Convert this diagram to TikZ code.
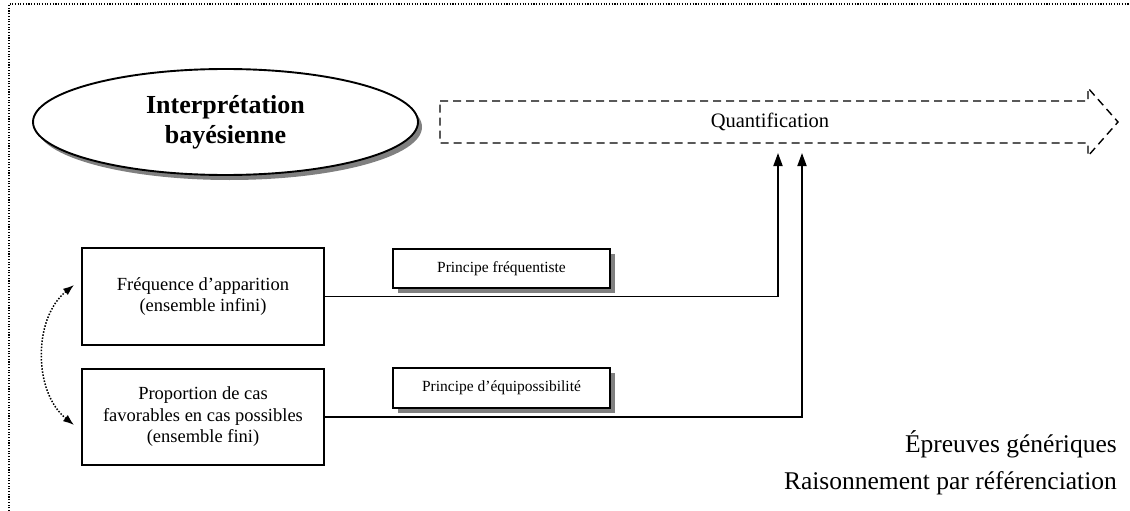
\documentclass[tikz,border=0pt]{standalone}
\usepackage{fontspec}
\setmainfont{Liberation Serif}
\usetikzlibrary{shapes.geometric,shadows,arrows.meta}
\begin{document}
\begin{tikzpicture}[x=1pt,y=-1pt,
  shadowed/.style={drop shadow={shadow xshift=5pt,shadow yshift=-5pt,fill=black!50,opacity=1}},
  mainbox/.style={draw,line width=1.8pt,fill=white,minimum width=242pt,align=center,
    font=\fontsize{18.5}{21.5}\selectfont,inner sep=0pt},
  princbox/.style={draw,line width=1.7pt,fill=white,minimum width=217pt,minimum height=39pt,
    font=\fontsize{15.5}{18}\selectfont,inner sep=0pt,shadowed},
  link/.style={line width=1.8pt,-{Triangle[length=13pt,width=9pt]}},
  bigtext/.style={font=\fontsize{25.5}{30}\selectfont,anchor=base east,inner sep=0pt}]
\useasboundingbox (0,0) rectangle (1130,511);
% frame
\draw[line width=1.1pt,dash pattern=on 1.1pt off 1.6pt] (9,511) -- (9,4) -- (1130,4);
% ellipse
\node[ellipse,draw,line width=1.9pt,fill=white,minimum width=385pt,minimum height=106pt,
  align=center,font=\fontsize{26}{30}\selectfont\bfseries,
  drop shadow={shadow xshift=4pt,shadow yshift=-5pt,fill=black!50,opacity=1}]
  (bayes) at (225.5,122) {Interprétation\\bayésienne};
% dashed arrow
\coordinate (qa) at (778,153);
\coordinate (qb) at (802,153);
\draw[line width=1.4pt,dash pattern=on 8pt off 5pt]
  (440,101) -- (1088,101) -- (1088,88) -- (1118,122) -- (1088,156) -- (1088,143) -- (440,143) -- cycle;
\node[font=\fontsize{20.5}{24}\selectfont] (quant) at (770,122) {Quantification};
% boxes
\node[mainbox,minimum height=97pt] (freq) at (203,296.5) {Fréquence d’apparition\\(ensemble infini)};
\node[mainbox,minimum height=96pt] (prop) at (203,417) {Proportion de cas\\favorables en cas possibles\\(ensemble fini)};
% principles
\node[princbox] (pf) at (501.5,268.5) {Principe fréquentiste};
\node[princbox,minimum height=40pt] (pe) at (501.5,388) {Principe d’équipossibilité};
% links
\draw[link] (freq.east) -| (qa);
\draw[link] (prop.east) -| (qb);
% dotted double arrow
\coordinate (d1) at (74,285);
\coordinate (d2) at (74,425);
\draw[line width=1.5pt,dash pattern=on 1.5pt off 1.6pt,
  {Latex[length=11pt,width=8pt]}-{Latex[length=11pt,width=8pt]}]
  (d1) .. controls (33,318) and (33,392) .. (d2);
% bottom text
\node[bigtext] (ep1) at (1117,452) {Épreuves génériques};
\node[bigtext] (ep2) at (1117,489) {Raisonnement par référenciation};
\end{tikzpicture}
\end{document}
